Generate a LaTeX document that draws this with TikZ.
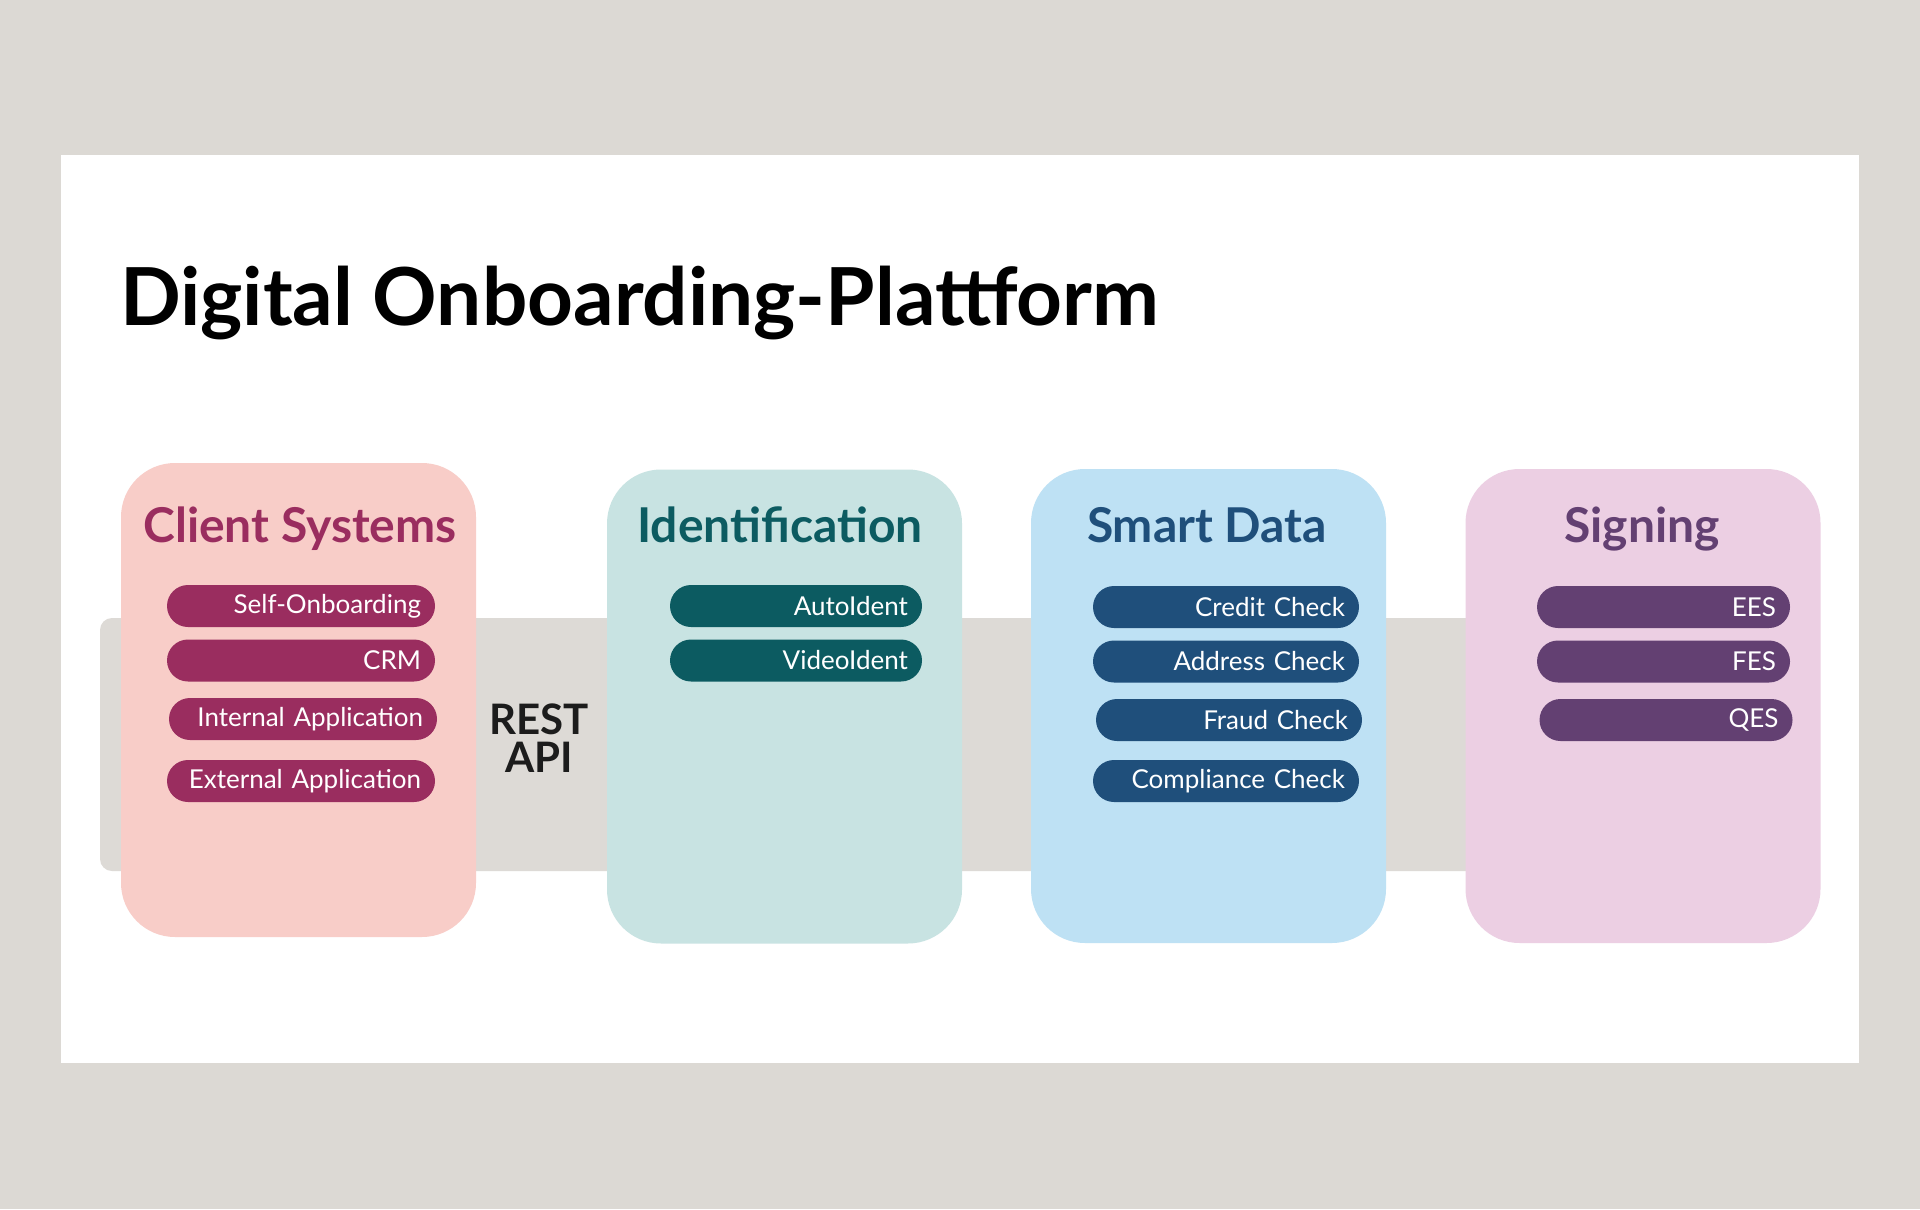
\documentclass[tikz,border=0pt]{standalone}
\usepackage{fontspec}
\setmainfont{Lato}
\usetikzlibrary{positioning}

\definecolor{pagegray}{RGB}{220,217,212}
\definecolor{bandgray}{RGB}{221,218,214}
\definecolor{clientbg}{RGB}{248,205,200}
\definecolor{clientfg}{RGB}{154,45,95}
\definecolor{identbg}{RGB}{200,227,226}
\definecolor{identfg}{RGB}{12,91,97}
\definecolor{smartbg}{RGB}{190,225,244}
\definecolor{smartfg}{RGB}{31,79,123}
\definecolor{signbg}{RGB}{236,207,227}
\definecolor{signfg}{RGB}{99,64,114}
\definecolor{restblack}{RGB}{28,28,28}

\begin{document}
\begin{tikzpicture}[x=0.5pt,y=-0.5pt,
    column/.style={rectangle, rounded corners=27pt, minimum width=177.5pt, minimum height=237pt, inner sep=0pt},
    coltitle/.style={anchor=base, font=\bfseries\fontsize{24}{28}\selectfont},
    pill/.style 2 args={rectangle, rounded corners=10.5pt, fill=#1, text=white, text width=#2,
        minimum height=21pt, inner ysep=0pt, inner xsep=7pt, align=right, font=\fontsize{13}{15}\selectfont}]

    % page and panel
    \fill[pagegray] (0,0) rectangle (1920,1209);
    \fill[white] (61,155) rectangle (1859,1063);
    % band behind the columns
    \fill[bandgray, rounded corners=6pt] (100,618) rectangle (1600,871);

    \node (heading) [anchor=base west, font=\bfseries\fontsize{40}{44}\selectfont] at (113,325) {Digital Onboarding-Plattform};

    \node (client) [column, fill=clientbg] at (298.5,700) {};
    \node (ident) [column, fill=identbg] at (784.5,706.5) {};
    \node (smart) [column, fill=smartbg] at (1208.5,706) {};
    \node (sign) [column, fill=signbg] at (1643,706) {};

    \node (clienttitle) [coltitle, text=clientfg] at (300,542) {Client Systems};
    \node (identtitle) [coltitle, text=identfg] at (780,542) {Identification};
    \node (smarttitle) [coltitle, text=smartfg] at (1207,542) {Smart Data};
    \node (signtitle) [coltitle, text=signfg] at (1642,542) {Signing};

    \node (selfonb) [pill={clientfg}{120pt}] at (301,606) {Self-Onboarding};
    \node (crm) [pill={clientfg}{120pt}] at (301,660.5) {CRM};
    \node (internal) [pill={clientfg}{120pt}] at (303,719) {Internal Application};
    \node (external) [pill={clientfg}{120pt}] at (301,781) {External Application};

    \node (rest) [font=\bfseries\fontsize{21}{19}\selectfont, align=center, text=restblack] at (539,738) {REST\\API};

    \node (autoident) [pill={identfg}{112pt}] at (796,606) {AutoIdent};
    \node (videoident) [pill={identfg}{112pt}] at (796,660.5) {VideoIdent};

    \node (credit) [pill={smartfg}{119pt}] at (1226,607) {Credit Check};
    \node (address) [pill={smartfg}{119pt}] at (1226,661.5) {Address Check};
    \node (fraud) [pill={smartfg}{119pt}] at (1229,720) {Fraud Check};
    \node (compliance) [pill={smartfg}{119pt}] at (1226,781) {Compliance Check};

    \node (ees) [pill={signfg}{112.5pt}] at (1663.5,607) {EES};
    \node (fes) [pill={signfg}{112.5pt}] at (1663.5,661.5) {FES};
    \node (qes) [pill={signfg}{112.5pt}] at (1666,720) {QES};
\end{tikzpicture}
\end{document}
